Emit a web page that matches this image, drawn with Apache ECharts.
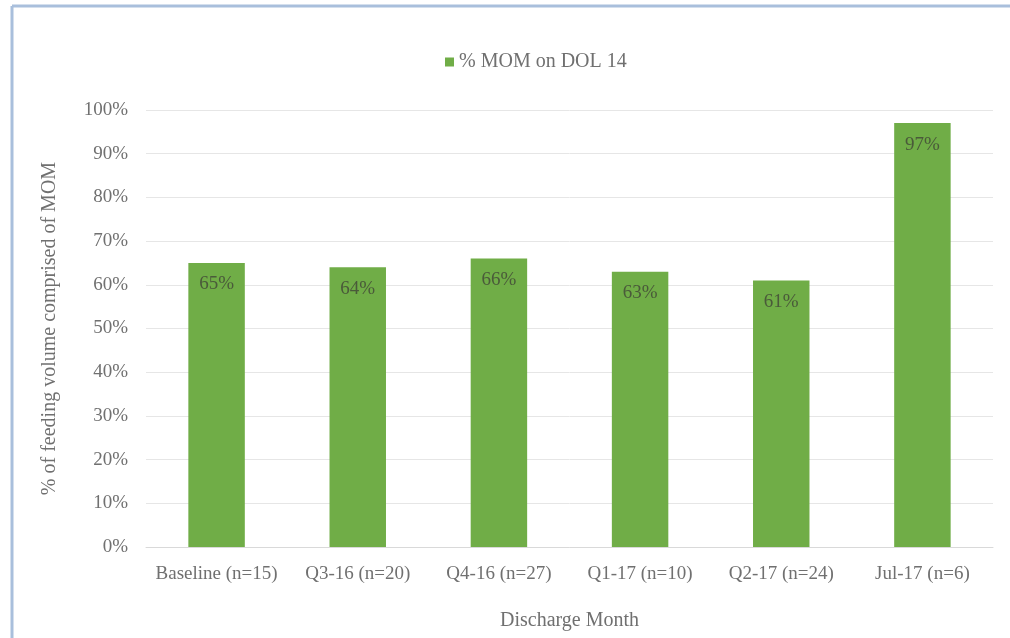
<!DOCTYPE html>
<html lang="en">
<head>
<meta charset="UTF-8">
<title>% MOM on DOL 14</title>
<script src="https://cdn.jsdelivr.net/npm/echarts@6.0.0/dist/echarts.min.js"></script>
<style>
    body { margin: 0; padding: 0; background: #fff; }
    #chart { width: 1010px; height: 638px; }
</style>
</head>
<body>
<div id="chart"></div>
<script>
  var categories = ['Baseline (n=15)', 'Q3-16 (n=20)', 'Q4-16 (n=27)', 'Q1-17 (n=10)', 'Q2-17 (n=24)', 'Jul-17 (n=6)'];
  var momValues = [65, 64, 66, 63, 61, 97];
  var seriesName = '% MOM on DOL 14';

  var font = 'Liberation Serif';
  var textGray = '#707070';

  var myChart = echarts.init(document.getElementById('chart'));
  var option = {
    animation: false,
    textStyle: { fontFamily: font },
    legend: {
      top: 47,
      left: 440,
      itemWidth: 9,
      itemHeight: 9,
      icon: 'rect',
      itemGap: 6,
      textStyle: { fontFamily: font, fontSize: 20, color: textGray },
      data: [seriesName]
    },
    grid: { left: 146, right: 17, top: 110, bottom: 91 },
    xAxis: {
      type: 'category',
      data: categories,
      name: 'Discharge Month',
      nameLocation: 'middle',
      nameGap: 64,
      nameTextStyle: { fontFamily: font, fontSize: 20, color: textGray },
      axisLine: { lineStyle: { color: '#d9d9d9' } },
      axisTick: { show: false },
      axisLabel: { interval: 0, fontFamily: font, fontSize: 19, color: textGray, margin: 18 }
    },
    yAxis: {
      type: 'value',
      min: 0,
      max: 100,
      interval: 10,
      name: '% of feeding volume comprised of MOM',
      nameLocation: 'middle',
      nameGap: 86,
      nameTextStyle: { fontFamily: font, fontSize: 20, color: textGray },
      axisLabel: { formatter: '{value}%', fontFamily: font, fontSize: 19, color: textGray, margin: 18 },
      splitLine: { lineStyle: { color: '#e6e6e6' } }
    },
    series: [{
      name: seriesName,
      type: 'bar',
      data: momValues,
      barWidth: '40%',
      itemStyle: { color: '#70ad47' },
      label: {
        show: true,
        position: 'insideTop',
        distance: 12,
        formatter: '{c}%',
        fontFamily: font,
        fontSize: 19,
        color: '#4a5a3a'
      }
    }],
    graphic: [
      { type: 'line', shape: { x1: 12, y1: 6, x2: 12, y2: 638 }, style: { stroke: '#a9bfdc', lineWidth: 3 } },
      { type: 'line', shape: { x1: 12, y1: 6, x2: 1010, y2: 6 }, style: { stroke: '#a9bfdc', lineWidth: 3 } }
    ]
  };
  myChart.setOption(option);
</script>
</body>
</html>
